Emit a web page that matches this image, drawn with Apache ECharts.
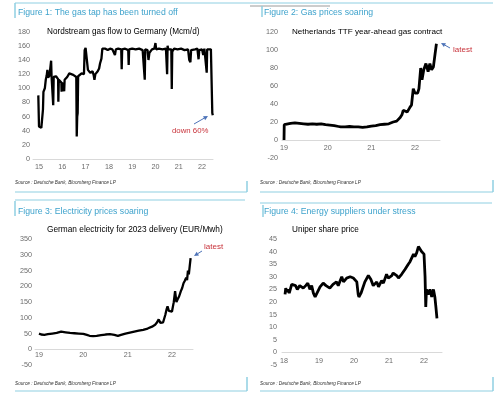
<!DOCTYPE html>
<html>
<head>
<meta charset="utf-8">
<script src="https://cdn.jsdelivr.net/npm/echarts@6/dist/echarts.min.js"></script>
<style>
  html, body { margin: 0; padding: 0; background: #fff; }
  #main { width: 500px; height: 396px; }
</style>
</head>
<body>
<div id="main"></div>
<script>
  // Figure 1: Nordstream flow (Mcm/d), x in years (15 = 2015)
  var nordYear = [14.97, 15.00, 15.05, 15.10, 15.15, 15.17, 15.19, 15.25, 15.29, 15.33, 15.36, 15.39, 15.45, 15.50, 15.52, 15.54, 15.59, 15.61, 15.63, 15.70,
    15.73, 15.82, 15.83, 15.85, 15.90, 15.96, 15.97, 15.99, 16.04, 16.08, 16.10, 16.16, 16.21, 16.30, 16.38, 16.47, 16.55, 16.60, 16.62, 16.64,
    16.66, 16.68, 16.75, 16.83, 16.93, 16.96, 17.00, 17.06, 17.10, 17.15, 17.20, 17.25, 17.30, 17.35, 17.38, 17.42, 17.47, 17.52, 17.58, 17.62,
    17.68, 17.72, 17.78, 17.85, 17.95, 18.05, 18.15, 18.22, 18.26, 18.30, 18.40, 18.53, 18.55, 18.57, 18.70, 18.83, 18.85, 18.87, 19.00, 19.15,
    19.30, 19.45, 19.52, 19.54, 19.56, 19.66, 19.70, 19.74, 19.85, 19.95, 20.00, 20.03, 20.15, 20.30, 20.45, 20.50, 20.52, 20.55, 20.68, 20.70,
    20.72, 20.80, 20.95, 21.10, 21.25, 21.40, 21.45, 21.50, 21.53, 21.70, 21.80, 21.85, 21.88, 22.00, 22.05, 22.10, 22.18, 22.20, 22.22, 22.30,
    22.38, 22.40, 22.44, 22.46];
  var nordFlow = [90, 46, 44, 44, 45, 70, 95, 100, 112, 118, 126, 115, 118, 120, 139, 116, 117, 76, 116, 114,
    117, 113, 81, 112, 110, 108, 95, 108, 110, 96, 112, 114, 116, 121, 119, 119, 117, 116, 32, 60,
    65, 117, 119, 121, 120, 154, 157, 156, 126, 125, 122, 120, 124, 118, 112, 120, 121, 124, 128, 135,
    142, 156, 155, 156, 154, 156, 155, 154, 147, 155, 156, 155, 127, 155, 156, 154, 133, 155, 156, 155,
    156, 154, 155, 112, 155, 154, 140, 150, 155, 156, 164, 155, 156, 155, 156, 120, 160, 155, 155, 99,
    152, 156, 155, 156, 154, 155, 140, 137, 154, 155, 156, 141, 154, 155, 147, 156, 155, 122, 155, 156,
    155, 154, 65, 62];
  var nordTicks = [15, 16, 17, 18, 19, 20, 21, 22];

  // Figure 2: TTF year-ahead gas (EUR/MWh)
  var ttfYear = [19.00, 19.005, 19.05, 19.15, 19.25, 19.35, 19.45, 19.55, 19.65, 19.75, 19.85, 19.95, 20.05, 20.15, 20.25, 20.30, 20.40, 20.50, 20.60, 20.70,
    20.80, 20.90, 21.00, 21.10, 21.20, 21.30, 21.40, 21.50, 21.58, 21.66, 21.70, 21.73, 21.76, 21.82, 21.88, 21.92, 21.96, 22.00, 22.03, 22.06,
    22.09, 22.13, 22.16, 22.20, 22.25, 22.30, 22.34, 22.38, 22.42, 22.46, 22.49];
  var ttfPrice = [0, 17, 18, 18.5, 19, 18.5, 18, 17.5, 18, 17.5, 18, 17, 16.5, 16, 15, 14.5, 14.5, 15, 14.5, 14.5,
    14, 14.5, 15.5, 16, 17, 17.5, 18, 20, 21, 25, 28, 33, 31, 31, 36, 39, 57, 52, 50, 52,
    57, 80, 67, 78, 85, 76, 85, 78, 81, 96, 107];
  var ttfTicks = [19, 20, 21, 22];

  // Figure 3: German power 2023 delivery (EUR/MWh)
  var powYear = [19.00, 19.05, 19.12, 19.20, 19.30, 19.40, 19.50, 19.60, 19.70, 19.80, 19.90, 20.00, 20.08, 20.14, 20.18, 20.22, 20.30, 20.40, 20.50, 20.60,
    20.70, 20.78, 20.85, 20.95, 21.05, 21.15, 21.25, 21.35, 21.45, 21.55, 21.62, 21.66, 21.70, 21.74, 21.80, 21.85, 21.88, 21.90, 21.93, 21.97,
    22.00, 22.04, 22.07, 22.10, 22.13, 22.16, 22.20, 22.23, 22.26, 22.29, 22.32, 22.34, 22.36, 22.38, 22.40, 22.42];
  var powPrice = [50, 47, 46, 48, 50, 52, 56, 54, 52, 51, 50, 49, 46, 43, 40, 42, 43, 45, 47, 48,
    46, 43, 46, 50, 53, 56, 59, 62, 66, 72, 78, 85, 95, 84, 86, 110, 128, 137, 122, 116,
    120, 150, 185, 150, 160, 168, 185, 195, 210, 218, 228, 220, 250, 238, 265, 290];
  var powTicks = [19, 20, 21, 22];

  // Figure 4: Uniper share price (EUR)
  var uniYear = [18.03, 18.05, 18.08, 18.12, 18.15, 18.22, 18.27, 18.33, 18.38, 18.45, 18.50, 18.55, 18.62, 18.68, 18.74, 18.79, 18.84, 18.89, 18.93, 19.03,
    19.12, 19.20, 19.31, 19.40, 19.50, 19.55, 19.65, 19.70, 19.79, 19.89, 19.98, 20.03, 20.08, 20.12, 20.14, 20.20, 20.31, 20.41, 20.48, 20.55,
    20.65, 20.70, 20.79, 20.84, 20.93, 20.98, 21.08, 21.12, 21.22, 21.27, 21.36, 21.46, 21.55, 21.60, 21.70, 21.74, 21.79, 21.84, 21.89, 21.93,
    22.00, 22.03, 22.05, 22.07, 22.12, 22.17, 22.22, 22.27, 22.31, 22.34, 22.37];
  var uniPrice = [23, 25.5, 24, 25, 23.5, 27, 27, 26.5, 25, 26.5, 27, 25.5, 26.5, 27.5, 25, 26.5, 23.5, 22, 22.5, 26,
    27.5, 26.5, 25.5, 27, 28, 26.5, 30, 28, 29.5, 30, 29.5, 30, 28, 23, 22, 23.5, 28, 30.5, 29, 26.5,
    28, 26, 28.5, 27.5, 31, 29.5, 30.5, 31.5, 30.5, 29.5, 31, 33, 35, 36, 39, 38, 39.5, 42, 41.5, 40,
    39, 30, 18, 25, 23, 25, 22, 25, 22, 18, 13.5];
  var uniTicks = [18, 19, 20, 21, 22];

  function pairs(xs, ys) {
    return xs.map(function (x, i) { return [x, ys[i]]; });
  }

  var frameColor = '#8fcfe2';
  var titleColor = '#3da2cc';
  var labelColor = '#6b6b6b';

  // offset moves the x axis up from the grid bottom to the zero line
  function xAxisFor(gridIndex, min, max, ticks, margin, offset) {
    return {
      type: 'value', gridIndex: gridIndex, min: min, max: max,
      position: 'bottom', offset: offset,
      axisLine: { onZero: false, lineStyle: { color: '#d9d9d9', width: 1 } },
      axisTick: { show: false },
      splitLine: { show: false },
      axisLabel: { customValues: ticks, color: labelColor, fontSize: 7.2, margin: margin, fontFamily: 'Liberation Sans' }
    };
  }

  function yAxisFor(gridIndex, min, max, interval, margin) {
    return {
      type: 'value', gridIndex: gridIndex, min: min, max: max, interval: interval,
      axisLine: { show: false },
      axisTick: { show: false },
      splitLine: { show: false },
      axisLabel: { color: labelColor, fontSize: 7.2, margin: margin, fontFamily: 'Liberation Sans' }
    };
  }

  function lineSeries(idx, data, width) {
    return {
      type: 'line', xAxisIndex: idx, yAxisIndex: idx, data: data,
      showSymbol: false, symbol: 'none',
      lineStyle: { color: '#000', width: width }
    };
  }

  function seg(x1, y1, x2, y2, color, w) {
    return { type: 'line', shape: { x1: x1, y1: y1, x2: x2, y2: y2 }, style: { stroke: color, lineWidth: w || 1 }, silent: true };
  }

  function txt(x, y, text, size, color, extra) {
    var style = { x: x, y: y, text: text, fontSize: size, fill: color, fontFamily: 'Liberation Sans', verticalAlign: 'middle', align: 'left' };
    for (var k in (extra || {})) style[k] = extra[k];
    return { type: 'text', style: style, silent: true };
  }

  // arrow annotation: line with a small head at (x2, y2)
  function arrow(x1, y1, x2, y2) {
    var c = '#4d73b8';
    var a = Math.atan2(y2 - y1, x2 - x1), L = 4.5, W = 2.2;
    var bx = x2 - L * Math.cos(a), by = y2 - L * Math.sin(a);
    var px = -Math.sin(a) * W, py = Math.cos(a) * W;
    return [
      seg(x1, y1, bx, by, c, 1),
      { type: 'polygon', shape: { points: [[x2, y2], [bx + px, by + py], [bx - px, by - py]] }, style: { fill: c }, silent: true }
    ];
  }

  var src = 'Source : Deutsche Bank, Bloomberg Finance LP';
  var graphics = [
    // frames
    seg(15, 3, 493, 3, frameColor, 1),
    seg(250, 6, 330, 6, '#9a9a9a', 1),
    seg(15, 3, 15, 18, frameColor, 1.5),
    seg(262, 6, 262, 17, frameColor, 1.5),
    seg(15, 192, 247, 192, frameColor, 1.2),
    seg(247, 181, 247, 192, frameColor, 1.5),
    seg(260, 192, 493, 192, frameColor, 1.2),
    seg(493, 180, 493, 192, frameColor, 1.5),
    seg(15, 200, 245, 200, frameColor, 1),
    seg(15, 201, 15, 216, frameColor, 1.5),
    seg(260, 203, 492, 203, frameColor, 1),
    seg(263, 205, 263, 217, frameColor, 1.5),
    seg(15, 391, 247, 391, frameColor, 1.2),
    seg(247, 377, 247, 391, frameColor, 1.5),
    seg(260, 391, 493, 391, frameColor, 1.2),
    seg(493, 377, 493, 391, frameColor, 1.5),
    // figure titles
    txt(18, 13, 'Figure 1: The gas tap has been turned off', 8.7, titleColor),
    txt(264, 13, 'Figure 2: Gas prices soaring', 8.7, titleColor),
    txt(18, 212, 'Figure 3: Electricity prices soaring', 8.7, titleColor),
    txt(264, 212, 'Figure 4: Energy suppliers under stress', 8.7, titleColor),
    // chart titles
    txt(47, 32, 'Nordstream gas flow to Germany (Mcm/d)', 8.2, '#000'),
    txt(292, 32, 'Netherlands TTF year-ahead gas contract', 8.1, '#000'),
    txt(47, 230, 'German electricity for 2023 delivery (EUR/Mwh)', 8.3, '#000'),
    txt(292, 230, 'Uniper share price', 8.2, '#000'),
    // sources
    txt(15, 183, src, 4.7, '#333', { fontStyle: 'italic' }),
    txt(260, 183, src, 4.7, '#333', { fontStyle: 'italic' }),
    txt(15, 384, src, 4.7, '#333', { fontStyle: 'italic' }),
    txt(260, 384, src, 4.7, '#333', { fontStyle: 'italic' }),
    // annotations
    txt(172, 131, 'down 60%', 7.8, '#c8323a'),
    txt(453, 50, 'latest', 8, '#c8323a'),
    txt(204, 247, 'latest', 8, '#c8323a')
  ].concat(arrow(194, 124, 208, 116), arrow(450, 48, 441, 43), arrow(202, 251, 194, 256));

  var chart = echarts.init(document.getElementById('main'));
  chart.setOption({
    animation: false,
    backgroundColor: '#fff',
    grid: [
      { left: 33, top: 31.7, width: 180, height: 127.3 },
      { left: 282, top: 32, width: 158, height: 126 },
      { left: 35, top: 239.3, width: 158, height: 125.7 },
      { left: 282, top: 239, width: 160, height: 126 }
    ],
    xAxis: [
      xAxisFor(0, 14.742, 22.47, nordTicks, 5, 0),
      xAxisFor(1, 18.954, 22.572, ttfTicks, 5, -18),
      xAxisFor(2, 18.91, 22.474, powTicks, 2, -15.7),
      xAxisFor(3, 17.943, 22.514, uniTicks, 5, -12.6)
    ],
    yAxis: [
      yAxisFor(0, 0, 180, 20, 3),
      yAxisFor(1, -20, 120, 20, 4),
      yAxisFor(2, -50, 350, 50, 3),
      yAxisFor(3, -5, 45, 5, 5)
    ],
    series: [
      lineSeries(0, pairs(nordYear, nordFlow), 2.3),
      lineSeries(1, pairs(ttfYear, ttfPrice), 2.8),
      lineSeries(2, pairs(powYear, powPrice), 2.3),
      lineSeries(3, pairs(uniYear, uniPrice), 2.8)
    ],
    graphic: graphics
  });
</script>
</body>
</html>
